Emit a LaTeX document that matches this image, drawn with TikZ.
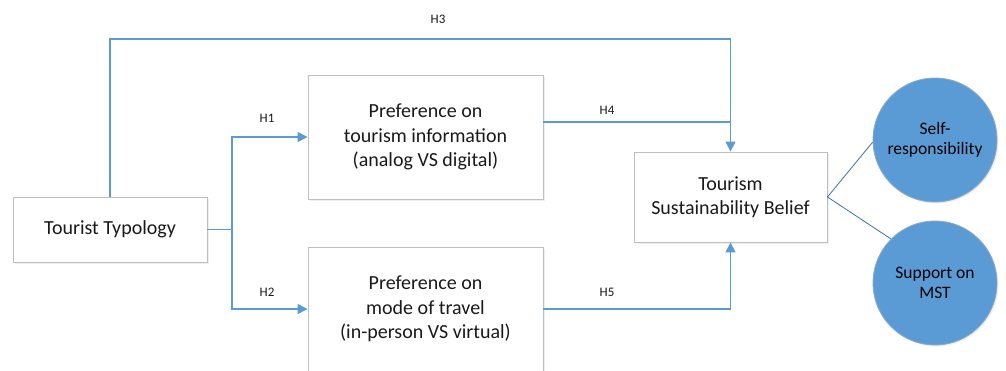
\documentclass[tikz,border=0pt]{standalone}
\usepackage{fontspec}
\setmainfont{Carlito}
\usetikzlibrary{arrows.meta,shadows}
\definecolor{conn}{HTML}{5B9BD5}
\definecolor{circfill}{HTML}{5B9BD5}
\definecolor{circline}{HTML}{41719C}
\definecolor{boxline}{HTML}{BFBFBF}
\definecolor{txt}{HTML}{1A1A1A}
\tikzset{
  boxnode/.style={draw=boxline, line width=0.9pt, fill=white, rectangle, align=center,
    text=txt, inner sep=0pt, font=\fontsize{20}{24.5}\selectfont,
    drop shadow={shadow xshift=1.5pt, shadow yshift=-1.5pt, opacity=0.12}},
  circnode/.style={draw=circline!60!white, line width=0.8pt, fill=circfill, circle,
    minimum size=124pt, inner sep=0pt, align=center, text=black,
    font=\fontsize{17.5}{20.5}\selectfont,
    drop shadow={shadow xshift=1.5pt, shadow yshift=-1.5pt, opacity=0.12}},
  hlabel/.style={font=\fontsize{13}{15}\selectfont, text=txt, inner sep=0pt},
  link/.style={draw=conn, line width=1.4pt},
  arrowlink/.style={link, -{Triangle[length=10pt,width=10pt]}},
  thinlink/.style={draw=circline, line width=0.8pt}
}
\begin{document}
\begin{tikzpicture}[x=1pt,y=-1pt]
\useasboundingbox (0,0) rectangle (1006,370);
\clip (0,0) rectangle (1006,370);
\fill[white] (0,0) rectangle (1006,370);
% nodes
\node[boxnode, minimum width=194pt, minimum height=65pt] (tt) at (110,229.5) {Tourist Typology};
\node[boxnode, minimum width=235pt, minimum height=124pt] (b1) at (425.5,137) {Preference on\\tourism information\\(analog VS digital)};
\node[boxnode, minimum width=235pt, minimum height=124pt] (b2) at (425.5,309) {Preference on\\mode of travel\\(in-person VS virtual)};
\node[boxnode, minimum width=193pt, minimum height=90pt] (tsb) at (730.5,197) {Tourism\\Sustainability Belief};
\node[circnode] (c1) at (935,140) {Self-\\responsibility};
\node[circnode] (c2) at (935,283) {Support on\\MST};
% coordinates
\coordinate (top) at (420,39);
\coordinate (j4) at (731,122);
\coordinate (split) at (232,229.5);
% connectors
\draw[arrowlink] (tt.north) |- (top) -| (tsb.north);
\draw[link] (b1.east |- j4) -- (j4);
\draw[link] (tt.east) -- (split);
\draw[arrowlink] (split) |- (b1.west);
\draw[arrowlink] (split) |- (b2.west);
\draw[arrowlink] (b2.east) -| (tsb.south);
\draw[thinlink] (tsb.east) -- (c1.182);
\draw[thinlink] (tsb.east) -- (c2.135);
% labels
\node[hlabel] (l3) at (438,19) {H3};
\node[hlabel] (l1) at (267,118) {H1};
\node[hlabel] (l4) at (607,110) {H4};
\node[hlabel] (l2) at (267,292) {H2};
\node[hlabel] (l5) at (607,292) {H5};
\end{tikzpicture}
\end{document}
